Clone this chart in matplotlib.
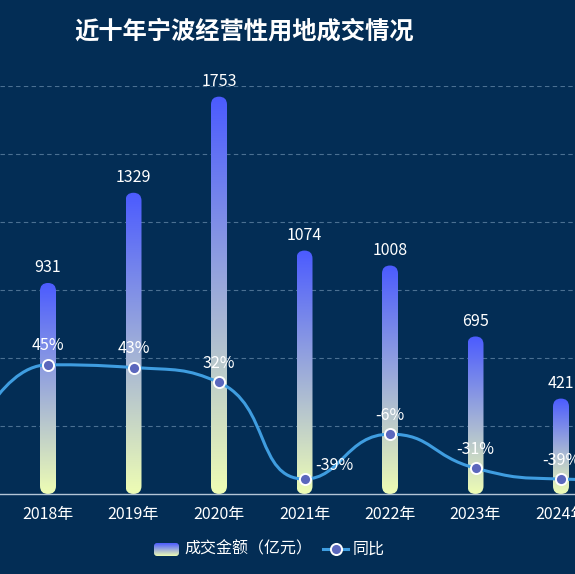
import numpy as np
import matplotlib
matplotlib.use("Agg")
import matplotlib.pyplot as plt
from matplotlib.colors import LinearSegmentedColormap
from matplotlib.patches import FancyBboxPatch, PathPatch
from matplotlib.path import Path
from matplotlib.lines import Line2D

plt.rcParams['font.family'] = ['Noto Sans CJK SC', 'DejaVu Sans']

# data (2017 and 2025 sit just outside the visible window)
years = ['2017年', '2018年', '2019年', '2020年', '2021年', '2022年', '2023年', '2024年', '2025年']
amount = [642, 931, 1329, 1753, 1074, 1008, 695, 421, 255]
yoy = [-25, 45, 43, 32, -39, -6, -31, -39, -40]
yoy_labels = ['', '45%', '43%', '32%', '-39%', '-6%', '-31%', '-39%', '']
amount_labels = ['', '931', '1329', '1753', '1074', '1008', '695', '421', '']

bg = '#032d55'
W, H = 575, 574
fig = plt.figure(figsize=(W / 100, H / 100), dpi=100, facecolor=bg)

# plot area: y from 86 px to 494 px (from top), full width
ax_top, ax_bot = 86, 494
ax = fig.add_axes([0, (H - ax_bot) / H, 1, (ax_bot - ax_top) / H])
ax.set_facecolor(bg)
ax2 = ax.twinx()
ax2.patch.set_visible(False)

x = np.arange(len(years))
px_step = 85.5
first_px = 48
xlim = (1 - first_px / px_step, 1 + (W - first_px) / px_step)
ax.set_xlim(xlim)
ax.set_ylim(0, 1800)
ax2.set_ylim(-50, 250)

# grid
ax.set_yticks(np.arange(300, 1801, 300))
ax.yaxis.grid(True, color='#4b7092', linestyle=(0, (4, 3)), linewidth=0.8)
ax.set_axisbelow(True)
ax.tick_params(axis='y', left=False, labelleft=False)
ax2.tick_params(axis='y', right=False, labelright=False)
for a in (ax, ax2):
    for s in ('top', 'left', 'right', 'bottom'):
        a.spines[s].set_visible(False)
ax.spines['bottom'].set_visible(True)
ax.spines['bottom'].set_color('#b4c5d6')
ax.spines['bottom'].set_linewidth(1)

ax.set_xticks(x)
ax.set_xticklabels(years, color='white', fontsize=11.5)
ax.tick_params(axis='x', length=0, pad=9)

# gradient bars with round caps
cmap = LinearSegmentedColormap.from_list('bar', ['#eefdb4', '#4b5bff'])
bar_w = 16 / px_step
ax_h_px = ax_bot - ax_top
aspect = (1800 / ax_h_px) / ((xlim[1] - xlim[0]) / W)
grad = np.linspace(1, 0, 256).reshape(-1, 1)
for xi, v, lab in zip(x, amount, amount_labels):
    patch = FancyBboxPatch((xi - bar_w / 2, 0), bar_w, v,
                           boxstyle=f"round,pad=0,rounding_size={bar_w / 2}",
                           mutation_aspect=aspect, fc='none', ec='none')
    ax.add_patch(patch)
    im = ax.imshow(grad, extent=[xi - bar_w / 2, xi + bar_w / 2, 0, v],
                   origin='upper', cmap=cmap, aspect='auto', zorder=2)
    im.set_clip_path(patch)
    if lab:
        ax.annotate(lab, (xi, v), xytext=(0, 15), textcoords='offset pixels',
                    ha='center', va='center', color='white', fontsize=11.5)
ax.set_xlim(xlim)
ax.set_ylim(0, 1800)

# smoothed line, echarts style (control points clamped, done in display space)
pts = ax2.transData.transform(np.column_stack([x, yoy]))
smooth = 0.5
cps_prev = pts.copy()
cps_next = pts.copy()
for i in range(1, len(pts) - 1):
    p, c, n = pts[i - 1], pts[i], pts[i + 1]
    v = n - p
    d0 = np.hypot(*(c - p))
    d1 = np.hypot(*(n - c))
    r = d1 / (d0 + d1)
    cp1 = c + v * smooth * r
    cp1 = np.minimum(cp1, np.maximum(n, c))
    cp1 = np.maximum(cp1, np.minimum(n, c))
    cp0 = c - (cp1 - c) * d0 / d1
    cp0 = np.minimum(cp0, np.maximum(p, c))
    cp0 = np.maximum(cp0, np.minimum(p, c))
    cp1 = c + (c - cp0) * d1 / d0
    cps_prev[i] = cp0
    cps_next[i] = cp1
verts = [pts[0]]
codes = [Path.MOVETO]
for i in range(len(pts) - 1):
    verts += [cps_next[i], cps_prev[i + 1], pts[i + 1]]
    codes += [Path.CURVE4] * 3
inv = ax2.transData.inverted()
path = Path(inv.transform(np.array(verts)), codes)
ax2.add_patch(PathPatch(path, fc='none', ec='#3f9de0', lw=2.2, zorder=3))
ax2.plot(x, yoy, 'o', ls='none', ms=8, mfc='#5b67bd', mec='white', mew=1.4, zorder=4)

for xi, v, lab in zip(x, yoy, yoy_labels):
    if not lab:
        continue
    off = (0, 19)
    if lab == '-39%' and xi == 4:
        off = (30, 14)
    ax2.annotate(lab, (xi, v), xytext=off, textcoords='offset pixels',
                 ha='center', va='center', color='white', fontsize=11.5)
ax2.set_xlim(xlim)
ax2.set_ylim(-50, 250)

# title
fig.text(244 / W, 1 - 32 / H, '近十年宁波经营性用地成交情况', ha='center', va='center',
         color='white', fontsize=17.5, fontweight='bold')

# legend
ly = 1 - 549 / H
lax = fig.add_axes([154 / W, (H - 556) / H, 25 / W, 13 / H])
lax.set_axis_off()
lpatch = FancyBboxPatch((0, 0), 1, 1, boxstyle="round,pad=0,rounding_size=0.12",
                        mutation_aspect=25 / 13, fc='none', ec='none', transform=lax.transAxes)
lax.add_patch(lpatch)
lim = lax.imshow(grad, extent=[0, 1, 0, 1], origin='upper', cmap=cmap, aspect='auto')
lim.set_clip_path(lpatch)
lax.set_xlim(0, 1)
lax.set_ylim(0, 1)
fig.text(184 / W, ly, '成交金额（亿元）', ha='left', va='center', color='white', fontsize=11.5)
fig.add_artist(Line2D([323 / W, 348 / W], [ly, ly], color='#3f9de0', lw=2.2,
                      transform=fig.transFigure))
fig.add_artist(Line2D([335.5 / W], [ly], marker='o', ms=8, mfc='#5b67bd', mec='white',
                      mew=1.4, ls='none', transform=fig.transFigure))
fig.text(353 / W, ly, '同比', ha='left', va='center', color='white', fontsize=11.5)

fig.savefig('out.png', dpi=100, facecolor=bg)
